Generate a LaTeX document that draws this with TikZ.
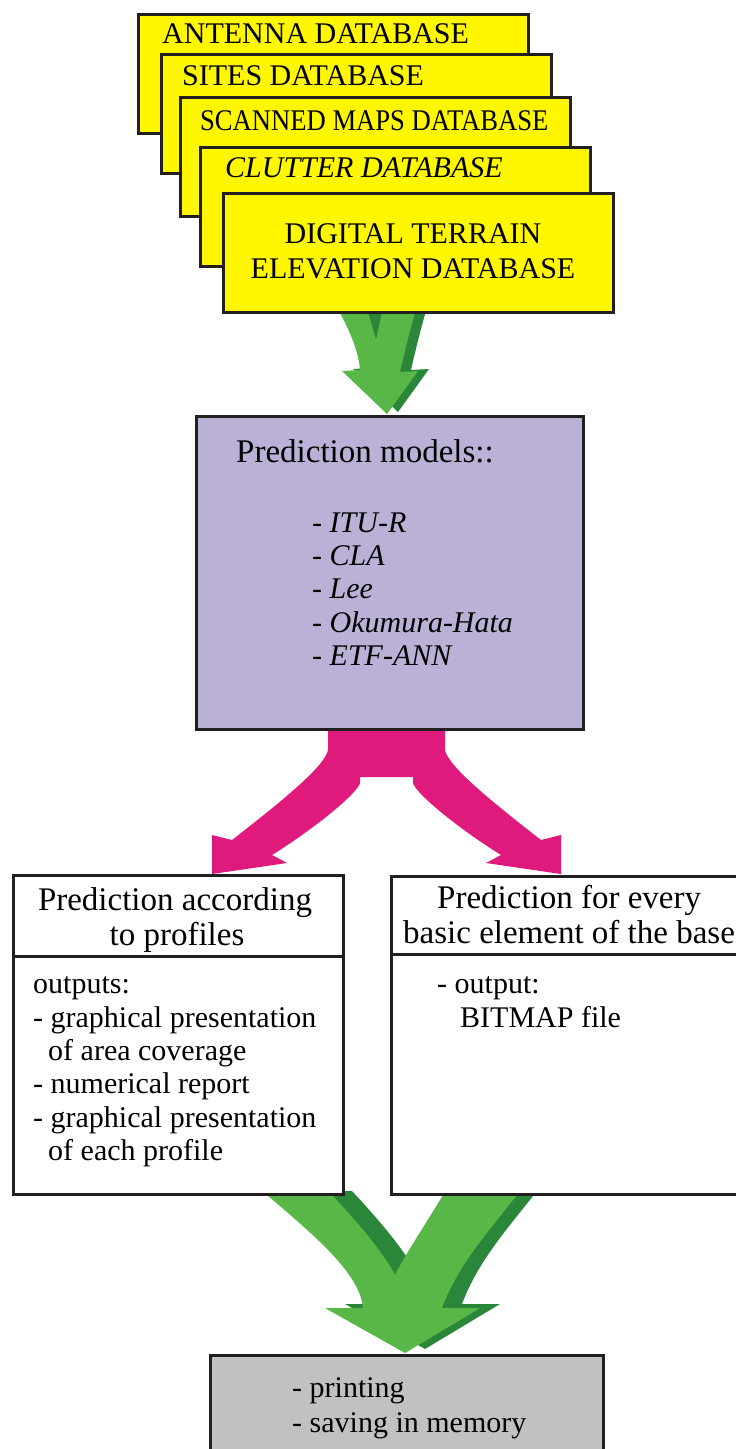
\documentclass[tikz,border=0pt]{standalone}
\usepackage{fontspec}
\setmainfont{Liberation Serif}
\definecolor{dbyellow}{HTML}{FFF700}
\definecolor{predpurple}{HTML}{BBB0D6}
\definecolor{arrowmag}{HTML}{E0197D}
\definecolor{greenlight}{HTML}{58B747}
\definecolor{greendark}{HTML}{2A873A}
\definecolor{outgray}{HTML}{C1C1BF}
\definecolor{edgecol}{HTML}{231F20}
\begin{document}
\begin{tikzpicture}[x=1pt,y=-1pt,
  boxbase/.style={draw=edgecol, line width=3pt, anchor=north west, inner sep=0pt},
  dbbox/.style={boxbase, fill=dbyellow, minimum width=390pt, minimum height=119pt},
  txt/.style={anchor=base west, inner sep=0pt, font=\fontsize{30}{33.5}\selectfont},
  ctxt/.style={anchor=base, inner sep=0pt, font=\fontsize{30}{33.5}\selectfont},
  ttl/.style={anchor=base west, inner sep=0pt, font=\fontsize{33}{36}\selectfont},
  cttl/.style={anchor=base, inner sep=0pt, font=\fontsize{33}{36}\selectfont},
  divider/.style={draw=edgecol, line width=3pt}]
\useasboundingbox (0,0) rectangle (736,1449);

% top green arrow
\begin{scope}
\clip (300,305) rectangle (460,416);
\fill[greendark] (351,306) -- (351,311) .. controls (363,333) and (370,353) .. (371,368) -- (353,369) -- (398,412) -- (429,369) -- (411,370) .. controls (416,348) and (421,328) .. (426,311) -- (426,306) -- cycle;
\fill[greenlight] (340,308) -- (340,313) .. controls (352,335) and (359,355) .. (360,370) -- (342,371) -- (387,414) -- (418,371) -- (400,372) .. controls (405,350) and (410,330) .. (415,313) -- (415,308) -- (382,308) -- (382,312) -- (376,340) -- (368,312) -- (368,308) -- cycle;
\end{scope}

% magenta split arrow
\fill[arrowmag] (328,727) -- (328,750) .. controls (325,765) and (290,795) .. (232,840) -- (212,835) -- (212,874) -- (287,863) -- (272,855) .. controls (320,825) and (358,792) .. (360,783) -- (360,777) -- (413,777) -- (413,783) .. controls (415,792) and (453,825) .. (501,855) -- (486,863) -- (561,874) -- (561,835) -- (541,840) .. controls (483,795) and (448,765) .. (445,750) -- (445,727) -- cycle;

% bottom green merging arrow
\begin{scope}
\clip (200,1191) rectangle (600,1355);
\begin{scope}[shift={(20,-4)}]
\fill[greendark] (267,1190) -- (267,1195) .. controls (320,1240) and (360,1275) .. (363,1308) -- (325,1308) -- (405,1353) -- (480,1308) -- (442,1308) .. controls (458,1265) and (488,1232) .. (517,1195) -- (517,1190) -- (443,1190) -- (443,1195) .. controls (425,1225) and (405,1255) .. (395,1275) .. controls (385,1255) and (360,1225) .. (332,1195) -- (332,1190) -- cycle;
\end{scope}
\fill[greenlight] (267,1190) -- (267,1195) .. controls (320,1240) and (360,1275) .. (363,1308) -- (325,1308) -- (405,1353) -- (480,1308) -- (442,1308) .. controls (458,1265) and (488,1232) .. (517,1195) -- (517,1190) -- (443,1190) -- (443,1195) .. controls (425,1225) and (405,1255) .. (395,1275) .. controls (385,1255) and (360,1225) .. (332,1195) -- (332,1190) -- cycle;
\end{scope}

% database stack
\node[dbbox] (db1) at (137,13) {};
\node[txt] (t1) at (162,43) {ANTENNA DATABASE};
\node[dbbox] (db2) at (160,53) {};
\node[txt] (t2) at (182,85) {SITES DATABASE};
\node[dbbox] (db3) at (179,96) {};
\node[txt] (t3) at (200,130) {\scalebox{0.887}[1]{SCANNED MAPS DATABASE}};
\node[dbbox] (db4) at (199,146) {};
\node[txt] (t4) at (225,177) {\itshape CLUTTER DATABASE};
\node[dbbox] (db5) at (222,192) {};
\node[ctxt] (t5a) at (413,243) {DIGITAL TERRAIN};
\node[ctxt] (t5b) at (413,278) {ELEVATION DATABASE};

% prediction models
\node[boxbase, fill=predpurple, minimum width=387pt, minimum height=313pt] (pred) at (195,415) {};
\node[ttl] (predt) at (236,462) {Prediction models::};
\node[txt] (m1) at (312,532) {- \textit{ITU-R}};
\node[txt] (m2) at (312,565) {- \textit{CLA}};
\node[txt] (m3) at (312,598) {- \textit{Lee}};
\node[txt] (m4) at (312,632) {- \textit{Okumura-Hata}};
\node[txt] (m5) at (312,665) {- \textit{ETF-ANN}};

% left output box
\node[boxbase, fill=white, minimum width=330pt, minimum height=319pt] (lbox) at (12,874) {};
\draw[divider] (lbox.west |- 0,956) -- (lbox.east |- 0,956);
\node[cttl] (lt1) at (175,910) {Prediction according};
\node[cttl] (lt2) at (177,945) {to profiles};
\node[txt] (l1) at (33,993) {outputs:};
\node[txt] (l2) at (33,1027) {- graphical presentation};
\node[txt] (l3) at (48,1060) {of area coverage};
\node[txt] (l4) at (33,1093) {- numerical report};
\node[txt] (l5) at (33,1127) {- graphical presentation};
\node[txt] (l6) at (48,1160) {of each profile};

% right output box
\node[boxbase, fill=white, minimum width=360pt, minimum height=318pt] (rbox) at (390,875) {};
\draw[divider] (rbox.west |- 0,954) -- (rbox.east |- 0,954);
\node[ttl] (rt1) at (437,908) {Prediction for every};
\node[ttl] (rt2) at (403,943) {basic element of the base};
\node[txt] (r1) at (437,993) {- output:};
\node[txt] (r2) at (460,1027) {BITMAP file};

% final box
\node[boxbase, fill=outgray, minimum width=393pt, minimum height=110pt] (fin) at (209,1354) {};
\node[txt] (f1) at (292,1397) {- printing};
\node[txt] (f2) at (292,1432) {- saving in memory};
\end{tikzpicture}
\end{document}
